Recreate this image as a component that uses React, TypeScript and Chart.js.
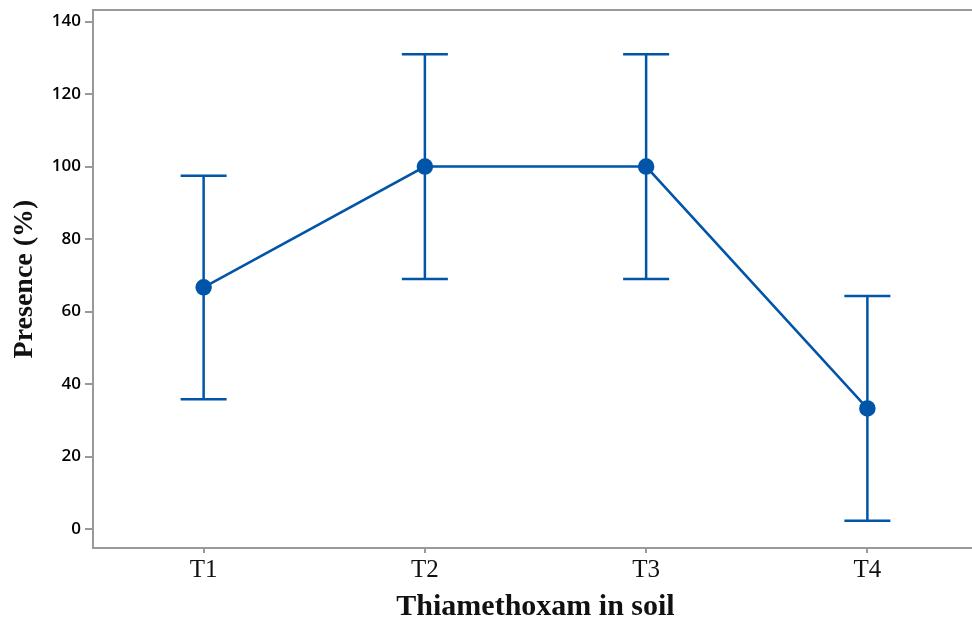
import React, { useEffect, useRef } from "react";
import { Chart, registerables } from "chart.js";

Chart.register(...registerables);

const categories = ["T1", "T2", "T3", "T4"];
const meanValues = [66.7, 100, 100, 33.3];
const errLow = [35.8, 69.0, 69.0, 2.3];
const errHigh = [97.5, 131.0, 131.0, 64.3];
const yTicks = [0, 20, 40, 60, 80, 100, 120, 140];
const yTitle = "Presence (%)";
const xTitle = "Thiamethoxam in soil";

const BLUE = "#0055a8";
const AXIS = "#999999";

const errorBarPlugin = {
  id: "errorBars",
  beforeDatasetsDraw(chart: any) {
    const ctx = chart.ctx;
    const xs = chart.scales.x;
    const ys = chart.scales.y;
    ctx.save();
    ctx.strokeStyle = BLUE;
    ctx.lineWidth = 2.5;
    const half = 23;
    for (let i = 0; i < categories.length; i++) {
      const x = xs.getPixelForValue(i);
      const yl = ys.getPixelForValue(errLow[i]);
      const yh = ys.getPixelForValue(errHigh[i]);
      ctx.beginPath();
      ctx.moveTo(x, yl);
      ctx.lineTo(x, yh);
      ctx.moveTo(x - half, yl);
      ctx.lineTo(x + half, yl);
      ctx.moveTo(x - half, yh);
      ctx.lineTo(x + half, yh);
      ctx.stroke();
    }
    ctx.restore();
  },
  afterDraw(chart: any) {
    const { ctx, chartArea } = chart;
    ctx.save();
    ctx.strokeStyle = AXIS;
    ctx.lineWidth = 2;
    ctx.beginPath();
    ctx.moveTo(chartArea.left, chartArea.top);
    ctx.lineTo(chart.width, chartArea.top);
    ctx.stroke();
    ctx.restore();
  },
};

export default function App() {
  const ref = useRef<HTMLCanvasElement | null>(null);
  useEffect(() => {
    if (!ref.current) return;
    const chart = new Chart(ref.current, {
      type: "line",
      data: {
        labels: categories,
        datasets: [
          {
            data: meanValues,
            borderColor: BLUE,
            backgroundColor: BLUE,
            borderWidth: 2.5,
            pointRadius: 7,
            pointHoverRadius: 7,
            pointBackgroundColor: BLUE,
            pointBorderColor: BLUE,
            tension: 0,
          },
        ],
      },
      options: {
        animation: false,
        responsive: false,
        layout: { autoPadding: false, padding: { left: 0, right: 0, top: 10, bottom: 0 } },
        plugins: {
          legend: { display: false },
          tooltip: { enabled: false },
        },
        scales: {
          x: {
            type: "category",
            offset: true,
            grid: {
              display: true,
              drawOnChartArea: false,
              drawTicks: true,
              tickLength: 5,
              color: AXIS,
              lineWidth: 2,
            },
            border: { display: true, color: AXIS, width: 2 },
            ticks: {
              color: "#111",
              padding: 2,
              font: { family: "'Liberation Serif', serif", size: 25 },
            },
            title: {
              display: true,
              text: xTitle,
              color: "#111",
              padding: { top: 0, bottom: 5 },
              font: { family: "'Liberation Serif', serif", size: 30, weight: "bold" },
            },
            afterFit(scale: any) {
              scale.height = 82;
              scale.paddingLeft = 0;
              scale.paddingRight = 0;
            },
          },
          y: {
            type: "linear",
            min: -5.2,
            max: 143.2,
            grid: {
              display: true,
              drawOnChartArea: false,
              drawTicks: true,
              tickLength: 8,
              color: AXIS,
              lineWidth: 2,
            },
            border: { display: true, color: AXIS, width: 2 },
            afterBuildTicks(scale: any) {
              scale.ticks = yTicks.map((v) => ({ value: v }));
            },
            ticks: {
              color: "#000",
              padding: 4,
              font: { family: "'Open Sans', sans-serif", size: 17, weight: "600" },
            },
            title: {
              display: true,
              text: yTitle,
              color: "#111",
              padding: { top: 8, bottom: 0 },
              font: { family: "'Liberation Serif', serif", size: 28, weight: "bold" },
            },
            afterFit(scale: any) {
              scale.width = 93;
              scale.paddingTop = 0;
              scale.paddingBottom = 0;
            },
          },
        },
      },
      plugins: [errorBarPlugin],
    });
    return () => chart.destroy();
  }, []);
  return (
    <div
      style={{
        position: "fixed",
        left: 0,
        top: 0,
        width: 972,
        height: 630,
        overflow: "hidden",
        background: "#fff",
      }}
    >
      <canvas ref={ref} width={978} height={630} style={{ display: "block" }} />
    </div>
  );
}
